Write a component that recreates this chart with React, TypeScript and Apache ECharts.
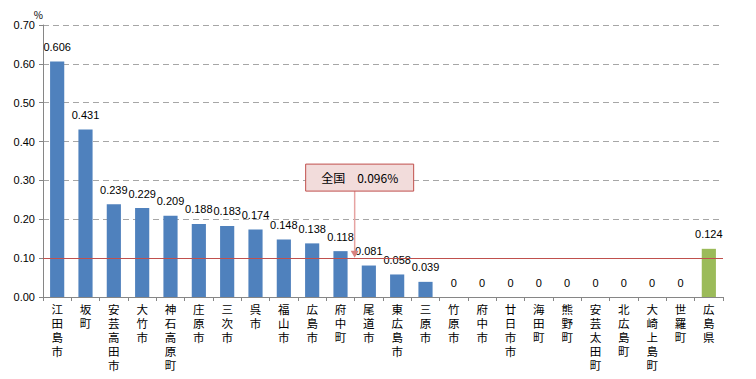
import React, { useEffect, useRef } from "react";
import * as echarts from "echarts";

const categories = [
  "江田島市", "坂町", "安芸高田市", "大竹市", "神石高原町", "庄原市", "三次市", "呉市",
  "福山市", "広島市", "府中町", "尾道市", "東広島市", "三原市", "竹原市", "府中市",
  "廿日市市", "海田町", "熊野町", "安芸太田町", "北広島町", "大崎上島町", "世羅町", "広島県",
];
const values = [
  0.606, 0.431, 0.239, 0.229, 0.209, 0.188, 0.183, 0.174,
  0.148, 0.138, 0.118, 0.081, 0.058, 0.039, 0, 0,
  0, 0, 0, 0, 0, 0, 0, 0.124,
];
const nationalValue = 0.096;
const nationalLabel = "全国　0.096%";
const yTicks = { min: 0, max: 0.7, interval: 0.1 };

const FONT = "'Noto Sans CJK JP', 'Liberation Sans', sans-serif";
const LABEL_FONT = "'Liberation Sans', 'Noto Sans CJK JP', sans-serif";

export default function App() {
  const ref = useRef<HTMLDivElement>(null);
  useEffect(() => {
    if (!ref.current) return;
    const chart = echarts.init(ref.current, null, { renderer: "svg" });
    const last = values.length - 1;
    chart.setOption({
      animation: false,
      textStyle: { fontFamily: FONT },
      grid: { left: 35, top: 17, right: 25, bottom: 82 },
      xAxis: {
        type: "category",
        data: categories,
        axisLine: { lineStyle: { color: "#868686" } },
        axisTick: { show: true, lineStyle: { color: "#868686" }, length: 4 },
        axisLabel: {
          interval: 0,
          color: "#000",
          fontSize: 11.5,
          lineHeight: 14,
          margin: 6,
          fontFamily: LABEL_FONT,
          formatter: (v: string) => v.split("").join("\n"),
        },
      },
      yAxis: {
        type: "value",
        min: yTicks.min,
        max: yTicks.max,
        interval: yTicks.interval,
        name: "%",
        nameLocation: "end",
        nameGap: 6,
        nameTextStyle: { color: "#000", fontSize: 10, align: "right", padding: [0, 0, 0, 0] },
        axisLine: { show: true, lineStyle: { color: "#868686" } },
        axisTick: { show: true, lineStyle: { color: "#868686" }, length: 4 },
        axisLabel: {
          color: "#000",
          fontSize: 11,
          fontFamily: "'Liberation Sans', sans-serif",
          formatter: (v: number) => v.toFixed(2),
        },
        splitLine: { lineStyle: { color: "#A6A6A6", type: [6, 4] } },
      },
      series: [
        {
          type: "bar",
          data: values.map((v, i) => ({
            value: v,
            itemStyle: { color: i === last ? "#9BBB59" : "#4F81BD" },
          })),
          barWidth: "50%",
          label: {
            show: true,
            position: "top",
            distance: 9,
            color: "#000",
            fontSize: 11,
            fontFamily: "'Liberation Sans', sans-serif",
            formatter: (p: any) => String(p.value),
          },
          markLine: {
            silent: true,
            symbol: "none",
            label: { show: false },
            lineStyle: { color: "#C0504D", width: 1, type: "solid" },
            data: [{ yAxis: nationalValue }],
          },
        },
      ],
    });

    // callout for national average
    const p10 = chart.convertToPixel({ xAxisIndex: 0, yAxisIndex: 0 }, [10, nationalValue]);
    const p11 = chart.convertToPixel({ xAxisIndex: 0, yAxisIndex: 0 }, [11, nationalValue]);
    const pTop = chart.convertToPixel({ xAxisIndex: 0, yAxisIndex: 0 }, [10, 0.342]);
    const ax = (p10[0] + p11[0]) / 2;
    const ay = p10[1] - 2;
    const boxTop = pTop[1];
    const boxH = 27;
    const boxW = 108;
    const boxL = ax - 49;
    chart.setOption({
      graphic: [
        {
          type: "line",
          shape: { x1: ax, y1: boxTop + boxH, x2: ax, y2: ay - 6 },
          style: { stroke: "#E6A3A2", lineWidth: 1.5 },
          z: 10,
        },
        {
          type: "polygon",
          shape: { points: [[ax - 4, ay - 7], [ax + 4, ay - 7], [ax, ay]] },
          style: { fill: "#D9827F" },
          z: 10,
        },
        {
          type: "rect",
          shape: { x: boxL, y: boxTop, width: boxW, height: boxH },
          style: { fill: "#F2DCDB", stroke: "#C0504D", lineWidth: 1 },
          z: 10,
        },
        {
          type: "text",
          x: boxL + boxW / 2,
          y: boxTop + boxH / 2,
          style: {
            text: nationalLabel,
            fill: "#000",
            fontSize: 12,
            fontFamily: FONT,
            align: "center",
            verticalAlign: "middle",
          },
          z: 11,
        },
      ],
    });
    return () => chart.dispose();
  }, []);
  return <div ref={ref} style={{ width: 740, height: 371 }} />;
}
